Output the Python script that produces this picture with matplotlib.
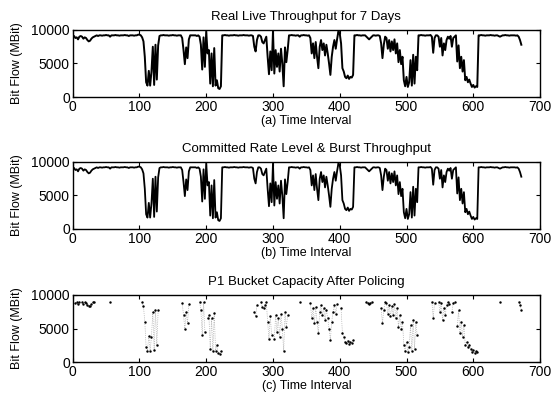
import numpy as np
import matplotlib
matplotlib.use("Agg")
import matplotlib.pyplot as plt

plt.rcParams['font.family'] = ['Liberation Sans', 'DejaVu Sans']

# time interval (step 2) 0..672
time_interval = list(range(0, 674, 2))

# throughput values (MBit), one per time step above
throughput = [
    # 0-18
    9200, 9100, 8800, 8900, 8600, 9000, 9100, 9000, 8700, 8900,
    # 20-38
    8800, 8500, 8300, 8400, 8700, 8900, 9000, 9100, 9200, 9100,
    # 40-58
    9200, 9200, 9150, 9200, 9200, 9250, 9200, 9200, 9000, 9200,
    # 60-78
    9200, 9200, 9250, 9200, 9200, 9150, 9200, 9200, 9200, 9250,
    # 80-98
    9200, 9200, 9100, 9200, 9200, 9200, 9150, 9200, 9200, 9300,
    # 100-118
    9300, 9200, 8900, 8300, 6000, 2200, 1700, 3900, 1700, 3800,
    # 120-138
    7500, 1800, 7800, 2600, 7700, 9100, 9200, 9200, 9250, 9200,
    # 140-158
    9200, 9200, 9150, 9200, 9200, 9250, 9200, 9200, 9150, 9200,
    # 160-178
    9200, 9200, 8800, 7000, 4900, 7400, 5800, 8600, 9200, 9200,
    # 180-198
    9200, 9200, 9200, 9100, 9200, 9000, 7800, 4100, 8900, 4500,
    # 200-218
    9800, 6500, 7000, 2000, 6500, 1600, 7300, 1700, 2500, 1300,
    # 220-238
    1200, 1600, 9200, 9200, 9250, 9200, 9200, 9150, 9200, 9200,
    # 240-258
    9200, 9250, 9200, 9200, 9150, 9200, 9200, 9200, 9250, 9200,
    # 260-278
    9200, 9200, 9150, 9200, 9200, 9100, 7500, 6800, 8500, 9200,
    # 280-298
    9200, 9000, 8200, 8000, 8500, 9000, 6000, 3400, 6800, 4000,
    # 300-318
    9800, 3500, 7000, 4500, 6500, 3800, 7200, 5000, 1600, 7400,
    # 320-338
    5200, 7000, 9200, 9200, 9250, 9200, 9200, 9150, 9200, 9200,
    # 340-358
    9000, 9200, 9200, 9250, 9200, 9200, 9150, 9200, 8800, 6500,
    # 360-378
    8000, 5800, 8200, 6000, 4300, 7500, 8500, 7000, 8000, 6200,
    # 380-398
    7800, 6500, 5000, 3300, 6000, 7500, 8500, 7200, 8600, 9800,
    # 400-418
    9500, 8000, 4300, 3800, 3000, 2800, 3200, 2700, 3000, 2900,
    # 420-438
    3300, 9200, 9200, 9250, 9200, 9200, 9150, 9200, 9200, 9200,
    # 440-458
    9000, 8800, 8600, 8800, 9000, 9200, 9200, 9150, 9200, 9200,
    # 460-478
    9100, 8000, 5800, 7800, 9000, 8800, 7200, 8500, 6800, 8300,
    # 480-498
    7000, 8600, 6500, 8000, 5200, 7000, 4900, 6000, 2500, 1600,
    # 500-518
    3000, 1500, 2200, 5500, 1700, 6300, 2000, 6000, 4000, 9200,
    # 520-538
    9200, 9250, 9200, 9200, 9150, 9200, 9200, 9200, 9250, 9000,
    # 540-558
    6600, 8800, 9200, 9200, 9000, 7500, 8800, 6200, 8000, 7000,
    # 560-578
    8500, 9000, 8700, 9100, 7500, 8800, 9000, 9200, 5300, 7700,
    # 580-598
    4300, 6000, 3800, 5500, 2500, 3000, 2200, 2600, 2000, 1500,
    # 600-618
    1800, 1400, 1600, 1500, 9200, 9200, 9250, 9200, 9200, 9150,
    # 620-638
    9200, 9200, 9200, 9250, 9200, 9200, 9150, 9200, 9200, 9100,
    # 640-658
    9000, 9100, 9200, 9200, 9250, 9200, 9200, 9150, 9200, 9200,
    # 660-672
    9200, 9200, 9150, 9200, 9000, 8500, 7800,
]

titles = ["Real Live Throughput for 7 Days",
          "Committed Rate Level & Burst Throughput",
          "P1 Bucket Capacity After Policing"]
xlabels = ["(a) Time Interval", "(b) Time Interval", "(c) Time Interval"]
ylabel = "Bit Flow (MBit)"
xticks = [0, 100, 200, 300, 400, 500, 600, 700]
yticks = [0, 5000, 10000]

t = np.array(time_interval, dtype=float)
y = np.array(throughput, dtype=float)
n = min(len(t), len(y))
t, y = t[:n], y[:n]

fig = plt.figure(figsize=(5.52, 4.03), dpi=100)
left, width, height = 0.1317, 0.8466, 0.1663
bottoms = [0.7593, 0.4318, 0.1017]
axes = [fig.add_axes([left, b, width, height]) for b in bottoms]

axes[0].plot(t, y, color='black', lw=1.4)
axes[1].plot(t, y, color='black', lw=1.3)

mask = y < 9100
yc = np.where(mask, y, np.nan)
axes[2].plot(t, yc, color='0.6', lw=0.5, ls=':')
axes[2].plot(t[mask], y[mask], ls='none', marker='.', ms=1.5, color='black')

for ax, ttl, xl in zip(axes, titles, xlabels):
    ax.set_xlim(0, 700)
    ax.set_ylim(0, 10000)
    ax.set_xticks(xticks)
    ax.set_yticks(yticks)
    ax.tick_params(direction='in', top=True, right=True, labelsize=10, length=3, pad=2)
    ax.set_title(ttl, fontsize=9.5, pad=7)
    ax.set_xlabel(xl, fontsize=9, labelpad=1)
    ax.set_ylabel(ylabel, fontsize=9, labelpad=6)
    for s in ax.spines.values():
        s.set_linewidth(1.0)

fig.savefig("out.png", dpi=100)
